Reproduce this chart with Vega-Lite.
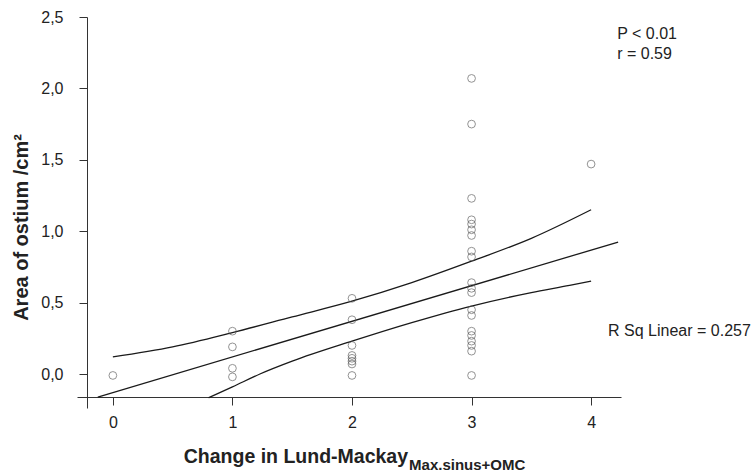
{
  "$schema": "https://vega.github.io/schema/vega-lite/v6.json",
  "autosize": {"type": "none"},
  "width": 544,
  "height": 391,
  "padding": {"left": 77, "top": 17, "right": 134, "bottom": 67},
  "config": {
    "view": {"stroke": null},
    "font": "Liberation Sans",
    "axis": {"grid": false, "domainColor": "#333", "tickColor": "#333", "labelColor": "#222", "titleColor": "#222", "labelFontSize": 16}
  },
  "datasets": {
    "pts": [
      {"change": 0, "area": -0.01},
      {"change": 1, "area": 0.30}, {"change": 1, "area": 0.19}, {"change": 1, "area": 0.04}, {"change": 1, "area": -0.02},
      {"change": 2, "area": 0.53}, {"change": 2, "area": 0.38}, {"change": 2, "area": 0.20}, {"change": 2, "area": 0.13},
      {"change": 2, "area": 0.11}, {"change": 2, "area": 0.09}, {"change": 2, "area": 0.07}, {"change": 2, "area": -0.01},
      {"change": 3, "area": 2.07}, {"change": 3, "area": 1.75}, {"change": 3, "area": 1.23}, {"change": 3, "area": 1.08},
      {"change": 3, "area": 1.05}, {"change": 3, "area": 1.01}, {"change": 3, "area": 0.97}, {"change": 3, "area": 0.86},
      {"change": 3, "area": 0.82}, {"change": 3, "area": 0.64}, {"change": 3, "area": 0.60}, {"change": 3, "area": 0.57},
      {"change": 3, "area": 0.45}, {"change": 3, "area": 0.41}, {"change": 3, "area": 0.30}, {"change": 3, "area": 0.27},
      {"change": 3, "area": 0.23}, {"change": 3, "area": 0.20}, {"change": 3, "area": 0.16}, {"change": 3, "area": -0.01},
      {"change": 4, "area": 1.47}
    ],
    "fit": [
      {"series": "fit", "change": -0.126, "area": -0.161},
      {"series": "fit", "change": 4.226, "area": 0.924},
      {"series": "upper", "change": 0, "area": 0.12},
      {"series": "upper", "change": 0.5, "area": 0.19},
      {"series": "upper", "change": 1, "area": 0.29},
      {"series": "upper", "change": 1.5, "area": 0.40},
      {"series": "upper", "change": 2, "area": 0.51},
      {"series": "upper", "change": 2.5, "area": 0.64},
      {"series": "upper", "change": 3, "area": 0.79},
      {"series": "upper", "change": 3.5, "area": 0.95},
      {"series": "upper", "change": 4, "area": 1.15},
      {"series": "lower", "change": 0.80, "area": -0.166},
      {"series": "lower", "change": 1.0, "area": -0.09},
      {"series": "lower", "change": 1.23, "area": 0.0},
      {"series": "lower", "change": 1.5, "area": 0.09},
      {"series": "lower", "change": 2, "area": 0.23},
      {"series": "lower", "change": 2.5, "area": 0.36},
      {"series": "lower", "change": 3, "area": 0.476},
      {"series": "lower", "change": 3.5, "area": 0.57},
      {"series": "lower", "change": 3.82, "area": 0.62},
      {"series": "lower", "change": 4, "area": 0.65}
    ]
  },
  "layer": [
    {
      "data": {"name": "fit"},
      "mark": {"type": "line", "interpolate": "monotone", "color": "#1a1a1a", "strokeWidth": 1.3},
      "encoding": {
        "x": {
          "field": "change", "type": "quantitative",
          "scale": {"domain": [-0.3, 4.25], "nice": false, "zero": false},
          "axis": {"values": [0, 1, 2, 3, 4], "offset": -11, "tickSize": 8, "labelPadding": 9, "title": null, "format": "d"}
        },
        "y": {
          "field": "area", "type": "quantitative",
          "scale": {"domain": [-0.238, 2.5], "nice": false, "zero": false},
          "axis": {"values": [0, 0.5, 1, 1.5, 2, 2.5], "offset": -10, "tickSize": 8, "labelPadding": 16,
                   "labelExpr": "replace(format(datum.value, '.1f'), '.', ',')",
                   "title": "Area of ostium /cm²", "titleFontSize": 20, "titleFontWeight": "bold", "titlePadding": 9, "titleY": 210}
        },
        "detail": {"field": "series"}
      }
    },
    {
      "data": {"name": "pts"},
      "mark": {"type": "point", "shape": "circle", "filled": false, "stroke": "#555", "strokeWidth": 0.9, "size": 60},
      "encoding": {
        "x": {"field": "change", "type": "quantitative"},
        "y": {"field": "area", "type": "quantitative"}
      }
    },
    {
      "data": {"values": [{"label": "P < 0.01"}]},
      "mark": {"type": "text", "align": "left", "baseline": "middle", "fontSize": 16, "color": "#222"},
      "encoding": {"x": {"datum": 4.218, "type": "quantitative"}, "y": {"datum": 2.381, "type": "quantitative"}, "text": {"field": "label"}}
    },
    {
      "data": {"values": [{"label": "r = 0.59"}]},
      "mark": {"type": "text", "align": "left", "baseline": "middle", "fontSize": 16, "color": "#222"},
      "encoding": {"x": {"datum": 4.218, "type": "quantitative"}, "y": {"datum": 2.241, "type": "quantitative"}, "text": {"field": "label"}}
    },
    {
      "data": {"values": [{"label": "R Sq Linear = 0.257"}]},
      "mark": {"type": "text", "align": "left", "baseline": "middle", "fontSize": 16, "color": "#222"},
      "encoding": {"x": {"datum": 4.142, "type": "quantitative"}, "y": {"datum": 0.301, "type": "quantitative"}, "text": {"field": "label"}}
    },
    {
      "data": {"values": [{"label": "Change in Lund-Mackay"}]},
      "mark": {"type": "text", "align": "right", "baseline": "middle", "fontSize": 19.5, "fontWeight": "bold", "color": "#222"},
      "encoding": {"x": {"datum": 2.469, "type": "quantitative"}, "y": {"datum": -0.581, "type": "quantitative"}, "text": {"field": "label"}}
    },
    {
      "data": {"values": [{"label": "Max.sinus+OMC"}]},
      "mark": {"type": "text", "align": "left", "baseline": "middle", "fontSize": 15, "fontWeight": "bold", "color": "#222", "dx": 1},
      "encoding": {"x": {"datum": 2.469, "type": "quantitative"}, "y": {"datum": -0.635, "type": "quantitative"}, "text": {"field": "label"}}
    }
  ]
}
